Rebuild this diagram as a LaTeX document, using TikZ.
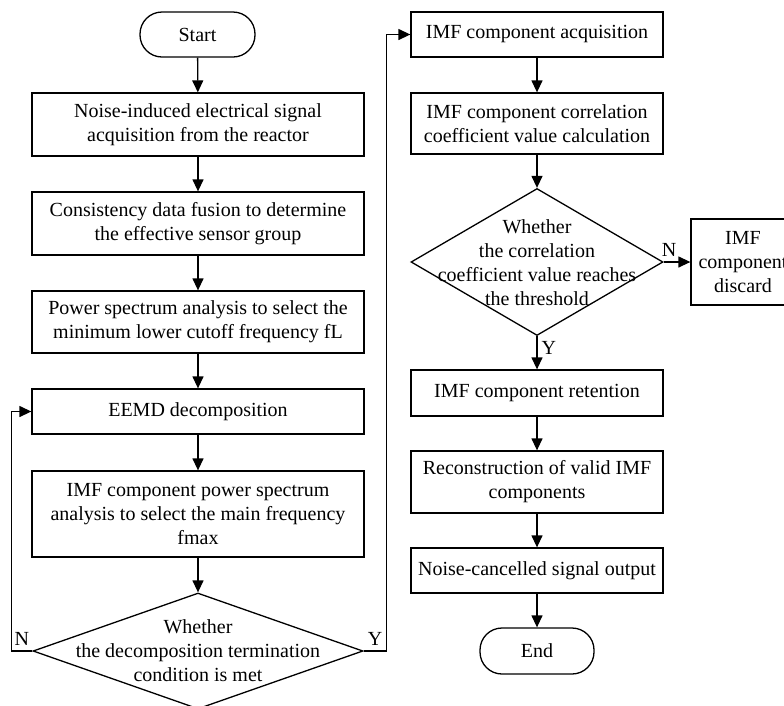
\documentclass[tikz,border=0pt]{standalone}
\usepackage{fontspec}
\setmainfont{Liberation Serif}
\usetikzlibrary{shapes.geometric, arrows.meta, positioning}

\begin{document}
\begin{tikzpicture}[x=1pt, y=-1pt, font=\fontsize{20}{24}\selectfont]
        % Setup the styles for the blocks
        \tikzset{process/.style={rectangle, draw, line width=1.3pt,
                                 align=center, inner sep=0pt},
                 terminal/.style={rectangle, draw, line width=1.3pt,
                                  rounded corners=22pt,
                                  minimum width=115pt, minimum height=45pt},
                 decision/.style={diamond, draw, line width=1.3pt, inner sep=0pt},
                 flow/.style={->, >={Triangle[length=12pt, width=11pt]},
                              line width=1.3pt}}

        \useasboundingbox (0, 0) rectangle (784, 705);
        \clip (0, 0) rectangle (784, 705);

        % Draw the left column
        \node[terminal] at (197.5, 34.5) (start) {Start};
        \node[process, minimum width=332pt, minimum height=63pt] at (198, 124.5) (signal)
            {Noise-induced electrical signal\\acquisition from the reactor};
        \node[process, minimum width=332pt, minimum height=63pt] at (198, 223.5) (fusion)
            {Consistency data fusion to determine\\the effective sensor group};
        \node[process, minimum width=332pt, minimum height=62pt] at (198, 322) (cutoff)
            {Power spectrum analysis to select the\\minimum lower cutoff frequency fL};
        \node[process, minimum width=332pt, minimum height=45pt] at (198, 411.5) (eemd)
            {EEMD decomposition};
        \node[process, minimum width=332pt, minimum height=86pt] at (198, 514) (mainfreq)
            {IMF component power spectrum\\analysis to select the main frequency\\fmax};
        \node[decision, minimum width=330pt, minimum height=116pt] at (198, 651) (stop) {};
        \node[align=center] at (stop) (stoptext)
            {Whether\\the decomposition termination\\condition is met};

        % Draw the right column
        \node[process, minimum width=252pt, minimum height=45pt] at (537, 34.5) (imf)
            {IMF component acquisition};
        \node[process, minimum width=252pt, minimum height=61pt] at (537, 123.5) (corr)
            {IMF component correlation\\coefficient value calculation};
        \node[decision, minimum width=252pt, minimum height=147pt] at (537, 262) (thresh) {};
        \node[align=center] at (537, 263) (threshtext)
            {Whether\\the correlation\\coefficient value reaches\\the threshold};
        \node[process, minimum width=104pt, minimum height=86pt] at (743, 262) (discard)
            {IMF\\component\\discard};
        \node[process, minimum width=252pt, minimum height=46pt] at (537, 393) (keep)
            {IMF component retention};
        \node[process, minimum width=252pt, minimum height=62pt] at (537, 482) (recon)
            {Reconstruction of valid IMF\\components};
        \node[process, minimum width=252pt, minimum height=45pt] at (537, 570.5) (output)
            {Noise-cancelled signal output};
        \node[terminal, minimum width=114pt, minimum height=46pt] at (537, 651) (end) {End};

        % Connect the blocks with arrows
        \draw[flow] (start) -- (signal);
        \draw[flow] (signal) -- (fusion);
        \draw[flow] (fusion) -- (cutoff);
        \draw[flow] (cutoff) -- (eemd);
        \draw[flow] (eemd) -- (mainfreq);
        \draw[flow] (mainfreq) -- (stop);
        \draw[flow] (stop.west) -- node[above, inner sep=5pt] {N} ++(-21, 0) |- (eemd);
        \draw[flow] (stop.east) -- node[above, inner sep=5pt] {Y} ++(23, 0) |- (imf);
        \draw[flow] (imf) -- (corr);
        \draw[flow] (corr) -- (thresh);
        \draw[flow] (thresh) -- node[pos=0.2, above, inner sep=5pt] {N} (discard);
        \draw[flow] (thresh) -- node[pos=0.35, right, inner sep=4pt] {Y} (keep);
        \draw[flow] (keep) -- (recon);
        \draw[flow] (recon) -- (output);
        \draw[flow] (output) -- (end);
\end{tikzpicture}
\end{document}
